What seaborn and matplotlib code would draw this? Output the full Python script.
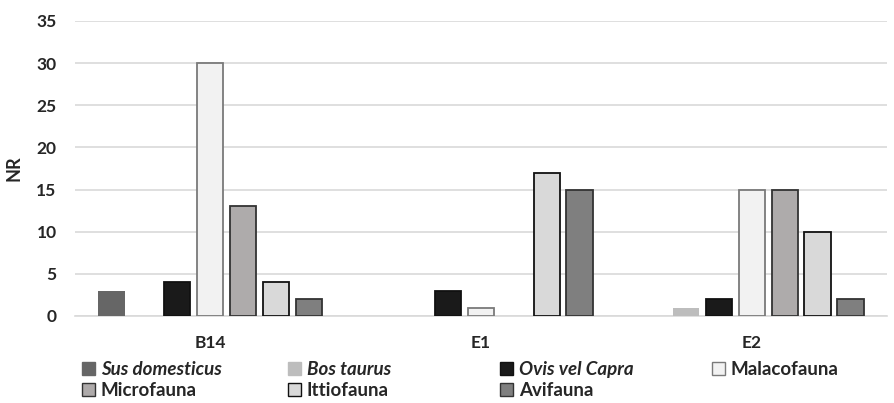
import matplotlib
matplotlib.use("Agg")
import matplotlib.pyplot as plt
import seaborn as sns
import pandas as pd
from matplotlib.patches import Patch

sites = ["B14", "E1", "E2"]
series = ["Sus domesticus", "Bos taurus", "Ovis vel Capra", "Malacofauna",
          "Microfauna", "Ittiofauna", "Avifauna"]
sus = [3, 0, 0]
bos = [0, 0, 1]
ovis = [4, 3, 2]
malaco = [30, 1, 15]
micro = [13, 0, 15]
ittio = [4, 17, 10]
avi = [2, 15, 2]
values = [sus, bos, ovis, malaco, micro, ittio, avi]

fills = ["#666666", "#bdbdbd", "#1a1a1a", "#f2f2f2", "#aeaaaa", "#d9d9d9", "#7f7f7f"]
edges = ["#666666", "#bdbdbd", "#111111", "#7a7a7a", "#333333", "#111111", "#333333"]
italic = [True, True, True, False, False, False, False]

rows = []
for s, vals in zip(series, values):
    for site, v in zip(sites, vals):
        rows.append({"site": site, "group": s, "NR": v})
df = pd.DataFrame(rows)

sns.set_theme(style="white")
plt.rcParams["font.family"] = ["Lato", "DejaVu Sans"]

fig = plt.figure(figsize=(8.95, 4.03), dpi=100)
ax = fig.add_axes([0.0834, 0.216, 0.908, 0.732])

sns.barplot(data=df, x="site", y="NR", hue="group", hue_order=series,
            order=sites, palette=fills, width=0.85, gap=0.2, legend=False,
            ax=ax, zorder=3)

for i, cont in enumerate(ax.containers):
    for p in cont:
        p.set_edgecolor(edges[i])
        p.set_linewidth(1.3 if i >= 2 else 0)
        if p.get_height() == 0:
            p.set_linewidth(0)

ax.set_ylim(0, 35)
ax.set_yticks(range(0, 36, 5))
ax.yaxis.grid(True, color="#d9d9d9", linewidth=1.2, zorder=0)
ax.set_axisbelow(True)
for sp in ["top", "right", "left"]:
    ax.spines[sp].set_visible(False)
ax.spines["bottom"].set_color("#d9d9d9")
ax.spines["bottom"].set_linewidth(1.2)
ax.tick_params(axis="y", length=0, labelsize=12.5, colors="#262626", pad=13)
ax.tick_params(axis="x", length=0, labelsize=12.5, colors="#262626", pad=14)
for lbl in ax.get_xticklabels() + ax.get_yticklabels():
    lbl.set_fontweight("bold")
ax.set_xlabel("")
ax.set_ylabel("NR", fontsize=13, fontweight="bold", color="#262626", labelpad=10)

# legend: four fixed-width columns, two rows
columns = [[0, 4], [1, 5], [2, 6], [3]]
col_x = [82, 288, 500, 712]
for cols, x in zip(columns, col_x):
    handles = [Patch(facecolor=fills[k], edgecolor=edges[k], linewidth=1.0) for k in cols]
    labels = [series[k] for k in cols]
    leg = fig.legend(handles, labels, ncol=1, loc="upper left",
                     bbox_to_anchor=(x / 895, 0.104),
                     frameon=False, handlelength=0.7, handleheight=0.7,
                     handletextpad=0.3, labelspacing=0.2, borderaxespad=0.0,
                     borderpad=0.0,
                     prop={"size": 13.5, "weight": "bold"})
    for t, k in zip(leg.get_texts(), cols):
        t.set_color("#262626")
        if italic[k]:
            t.set_fontstyle("italic")

fig.savefig("out.png", dpi=100)
